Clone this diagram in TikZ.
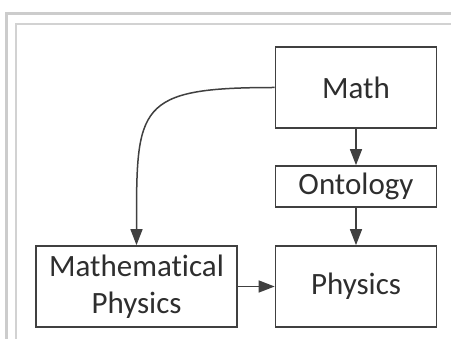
\documentclass[tikz,border=0pt]{standalone}
\usepackage{fontspec}
\setmainfont{Carlito}[Ligatures={NoCommon}]
\usetikzlibrary{arrows.meta}
\definecolor{boxline}{HTML}{404040}
\definecolor{txt}{HTML}{2E2E2E}
\definecolor{frameA}{HTML}{CCCCCC}
\definecolor{frameB}{HTML}{D2D2D2}
\tikzset{
  box/.style={draw=boxline, line width=1.7pt, fill=white, inner sep=0pt,
    text=txt, font=\fontsize{31}{37}\selectfont, align=center},
  conn/.style={draw=boxline, line width=1.5pt, -{Triangle[length=16pt,width=12pt]}}
}
\begin{document}
\begin{tikzpicture}[x=1pt,y=-1pt]
\useasboundingbox (0,0) rectangle (451,339);
\fill[white] (0,0) rectangle (451,339);
\draw[frameA, line width=2.6pt] (6.5,339) -- (6.5,13.5) -- (451,13.5);
\draw[frameB, line width=1.6pt] (16,339) -- (16,24) -- (451,24);
\node[box, minimum width=161pt, minimum height=81pt] (math) at (356,87.5) {Math};
\node[box, minimum width=161pt, minimum height=41pt] (onto) at (356,186.5) {Ontology};
\node[box, minimum width=161pt, minimum height=81pt] (phys) at (356,286.5) {Physics};
\node[box, minimum width=201pt, minimum height=81pt] (mphys) at (136.5,286.5) {Mathematical\\Physics};
\draw[conn] (math) -- (onto);
\draw[conn] (onto) -- (phys);
\draw[conn] (mphys) -- (phys);
\draw[conn] (math.west) to[out=180,in=90,looseness=1.7] (mphys.north);
\end{tikzpicture}
\end{document}
